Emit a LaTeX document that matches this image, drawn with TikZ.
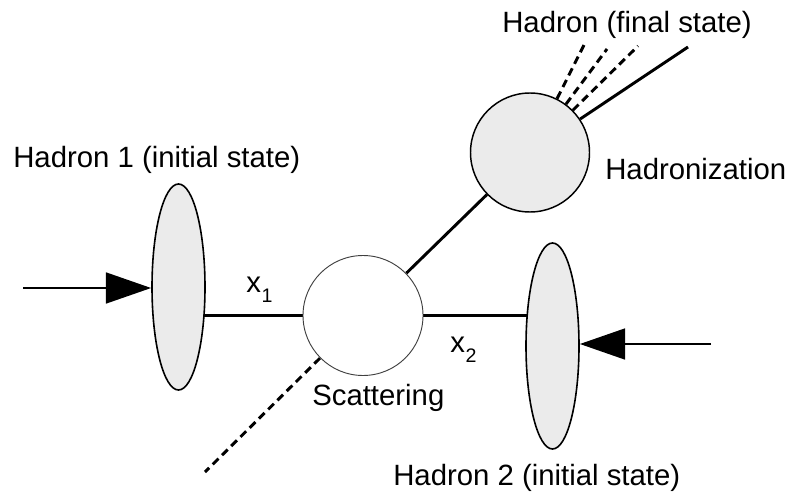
\documentclass[tikz,border=0pt]{standalone}
\usepackage{fontspec}
\setmainfont{Liberation Sans}
\usetikzlibrary{shapes.geometric, arrows.meta, backgrounds}
\definecolor{blobgray}{HTML}{EBEBEB}
\tikzset{
	hadronblob/.style={ellipse, draw, line width=1.2pt, fill=blobgray,
			minimum width=39.75pt, minimum height=154.5pt, inner sep=0pt}
}
\tikzset{
	scatterblob/.style={circle, draw=black!75, line width=0.7pt, fill=white,
			minimum size=90pt, inner sep=0pt},
	hadrblob/.style={circle, draw, line width=1.1pt, fill=blobgray,
			minimum size=89.25pt, inner sep=0pt}
}
\tikzset{
	parton/.style={line width=2.2pt},
	remnant/.style={line width=2.2pt, dash pattern=on 6pt off 3.75pt},
	beam/.style={line width=2.2pt, -{Triangle[length=34pt,width=23pt]}}
}
\tikzset{
	labeltext/.style={inner sep=0pt, anchor=base west, font=\fontsize{22}{26}\selectfont}
}
\newcommand{\partonfrac}[1]{x\kern0.5pt\raisebox{-7.5pt}{\fontsize{14.7}{15}\selectfont #1}}

\begin{document}
\begin{tikzpicture}[x=0.75pt, y=-0.75pt]

	\useasboundingbox (0,0) rectangle (792,492);

	\begin{scope}
		\node[hadronblob] (h1) at (178.5,287) {};
		\node[hadronblob] (h2) at (552.5,346) {};
		\node[scatterblob] (scat) at (363,315.5) {};
		\node[hadrblob] (hadr) at (530,152.5) {};
	\end{scope}

	\begin{scope}
		\coordinate (in1) at (23,288);
		\coordinate (in2) at (711,344);
		\coordinate (jet) at (688,47);
		\coordinate (frag1) at (585,43);
		\coordinate (frag2) at (607,49);
		\coordinate (frag3) at (638,46);
		\coordinate (beamrest) at (205,472);
	\end{scope}

	\begin{scope}[on background layer]
		\draw[parton] (scat.west) -- (scat.west -| h1.center);
		\draw[parton] (scat.east) -- (scat.east -| h2.center);
		\draw[parton] (scat) -- (hadr);
		\draw[parton] (hadr) -- (jet);
		\draw[remnant] (hadr) -- (frag1);
		\draw[remnant] (hadr) -- (frag2);
		\draw[remnant] (hadr) -- (frag3);
		\draw[remnant] (scat) -- (beamrest);
	\end{scope}

	\draw[beam] (in1) -- (in1 -| h1.west);
	\draw[beam] (in2) -- (in2 -| h2.east);

	\node[labeltext] (lh1) at (13,167) {Hadron 1 (initial state)};
	\node[labeltext] (lh2) at (393,485) {Hadron 2 (initial state)};
	\node[labeltext] (lfinal) at (502,33) {Hadron (final state)};
	\node[labeltext] (lhadr) at (605,179) {Hadronization};
	\node[labeltext] (lscat) at (312,405) {Scattering};
	\node[labeltext] (lx1) at (246,292) {\partonfrac{1}};
	\node[labeltext] (lx2) at (450,352) {\partonfrac{2}};

\end{tikzpicture}
\end{document}
